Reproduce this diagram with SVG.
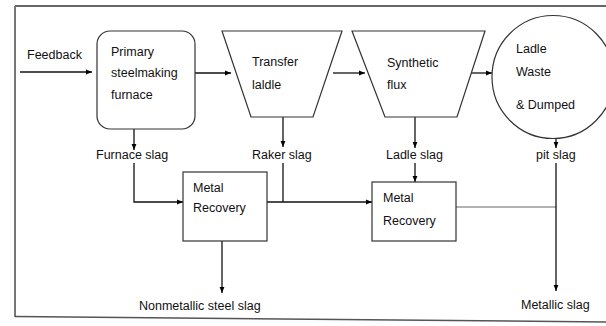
<svg xmlns="http://www.w3.org/2000/svg" width="606" height="326" viewBox="0 0 606 326">
<defs>
<marker id="ah" viewBox="0 0 10 10" refX="10" refY="5" markerWidth="6" markerHeight="6" markerUnits="userSpaceOnUse" orient="auto">
<path d="M0,1 L10,5 L0,9 z" fill="#000"/>
</marker>
<style>
text{font-family:"Liberation Sans",Arial,sans-serif;font-size:12.5px;fill:#111}
.sh{fill:#fff;stroke:#333;stroke-width:1.2}
.ln{fill:none;stroke:#111;stroke-width:1.3}
.ar{fill:none;stroke:#111;stroke-width:1.3;marker-end:url(#ah)}
</style>
</defs>
<rect width="606" height="326" fill="#fff"/>
<g id="frame">
<line x1="15" y1="6" x2="606" y2="6" stroke="#333" stroke-width="1.5"/>
<line x1="15" y1="6" x2="15" y2="317" stroke="#777" stroke-width="2"/>
<line x1="15" y1="316.5" x2="606" y2="322" stroke="#555" stroke-width="1.5"/>
</g>
<g id="connectors">
<line class="ar" x1="20" y1="72" x2="92" y2="72"/>
<line class="ar" x1="195" y1="73" x2="231" y2="73"/>
<line class="ar" x1="333" y1="73" x2="365" y2="73"/>
<line class="ar" x1="470" y1="73" x2="492" y2="73"/>
<line class="ar" x1="134" y1="129" x2="134" y2="150"/>
<line class="ar" x1="283" y1="117" x2="283" y2="147"/>
<line class="ar" x1="415" y1="117" x2="415" y2="148"/>
<line class="ar" x1="556" y1="138" x2="556" y2="148"/>
<polyline class="ar" points="134,163 134,202 183,202"/>
<line class="ln" x1="283" y1="163" x2="283" y2="202"/>
<line class="ar" x1="267" y1="202" x2="372" y2="202"/>
<line class="ar" x1="415" y1="163" x2="415" y2="182"/>
<line class="ar" x1="222" y1="241" x2="222" y2="293"/>
<line x1="456" y1="207" x2="556" y2="207" stroke="#999" stroke-width="1.3"/>
<line class="ar" x1="556" y1="163" x2="556" y2="291"/>
</g>
<g id="feedback"><text x="27" y="59">Feedback</text></g>
<g id="furnace">
<rect class="sh" x="97" y="31" width="98" height="98" rx="13"/>
<text x="111" y="56">Primary</text>
<text x="111" y="77">steelmaking</text>
<text x="111" y="99">furnace</text>
</g>
<g id="transfer">
<polygon class="sh" points="222,31 342,31 313,117 251,117"/>
<text x="252" y="66">Transfer</text>
<text x="252" y="89">laldle</text>
</g>
<g id="synthetic">
<polygon class="sh" points="352,31 485,31 457,117 385,117"/>
<text x="387" y="67">Synthetic</text>
<text x="387" y="89">flux</text>
</g>
<g id="ladle">
<ellipse class="sh" cx="553" cy="77" rx="61" ry="61.5"/>
<text x="516" y="53">Ladle</text>
<text x="516" y="76">Waste</text>
<text x="516" y="109">&amp; Dumped</text>
</g>
<g id="labels">
<text x="96" y="159">Furnace slag</text>
<text x="252" y="159">Raker slag</text>
<text x="386" y="159">Ladle slag</text>
<text x="536" y="159">pit slag</text>
<text x="139" y="310">Nonmetallic steel slag</text>
<text x="521" y="309">Metallic slag</text>
</g>
<g id="mr1">
<rect class="sh" x="183" y="172" width="84" height="69"/>
<text x="193" y="192">Metal</text>
<text x="193" y="212">Recovery</text>
</g>
<g id="mr2">
<rect class="sh" x="372" y="182" width="84" height="59"/>
<text x="383" y="202">Metal</text>
<text x="383" y="225">Recovery</text>
</g>
</svg>
